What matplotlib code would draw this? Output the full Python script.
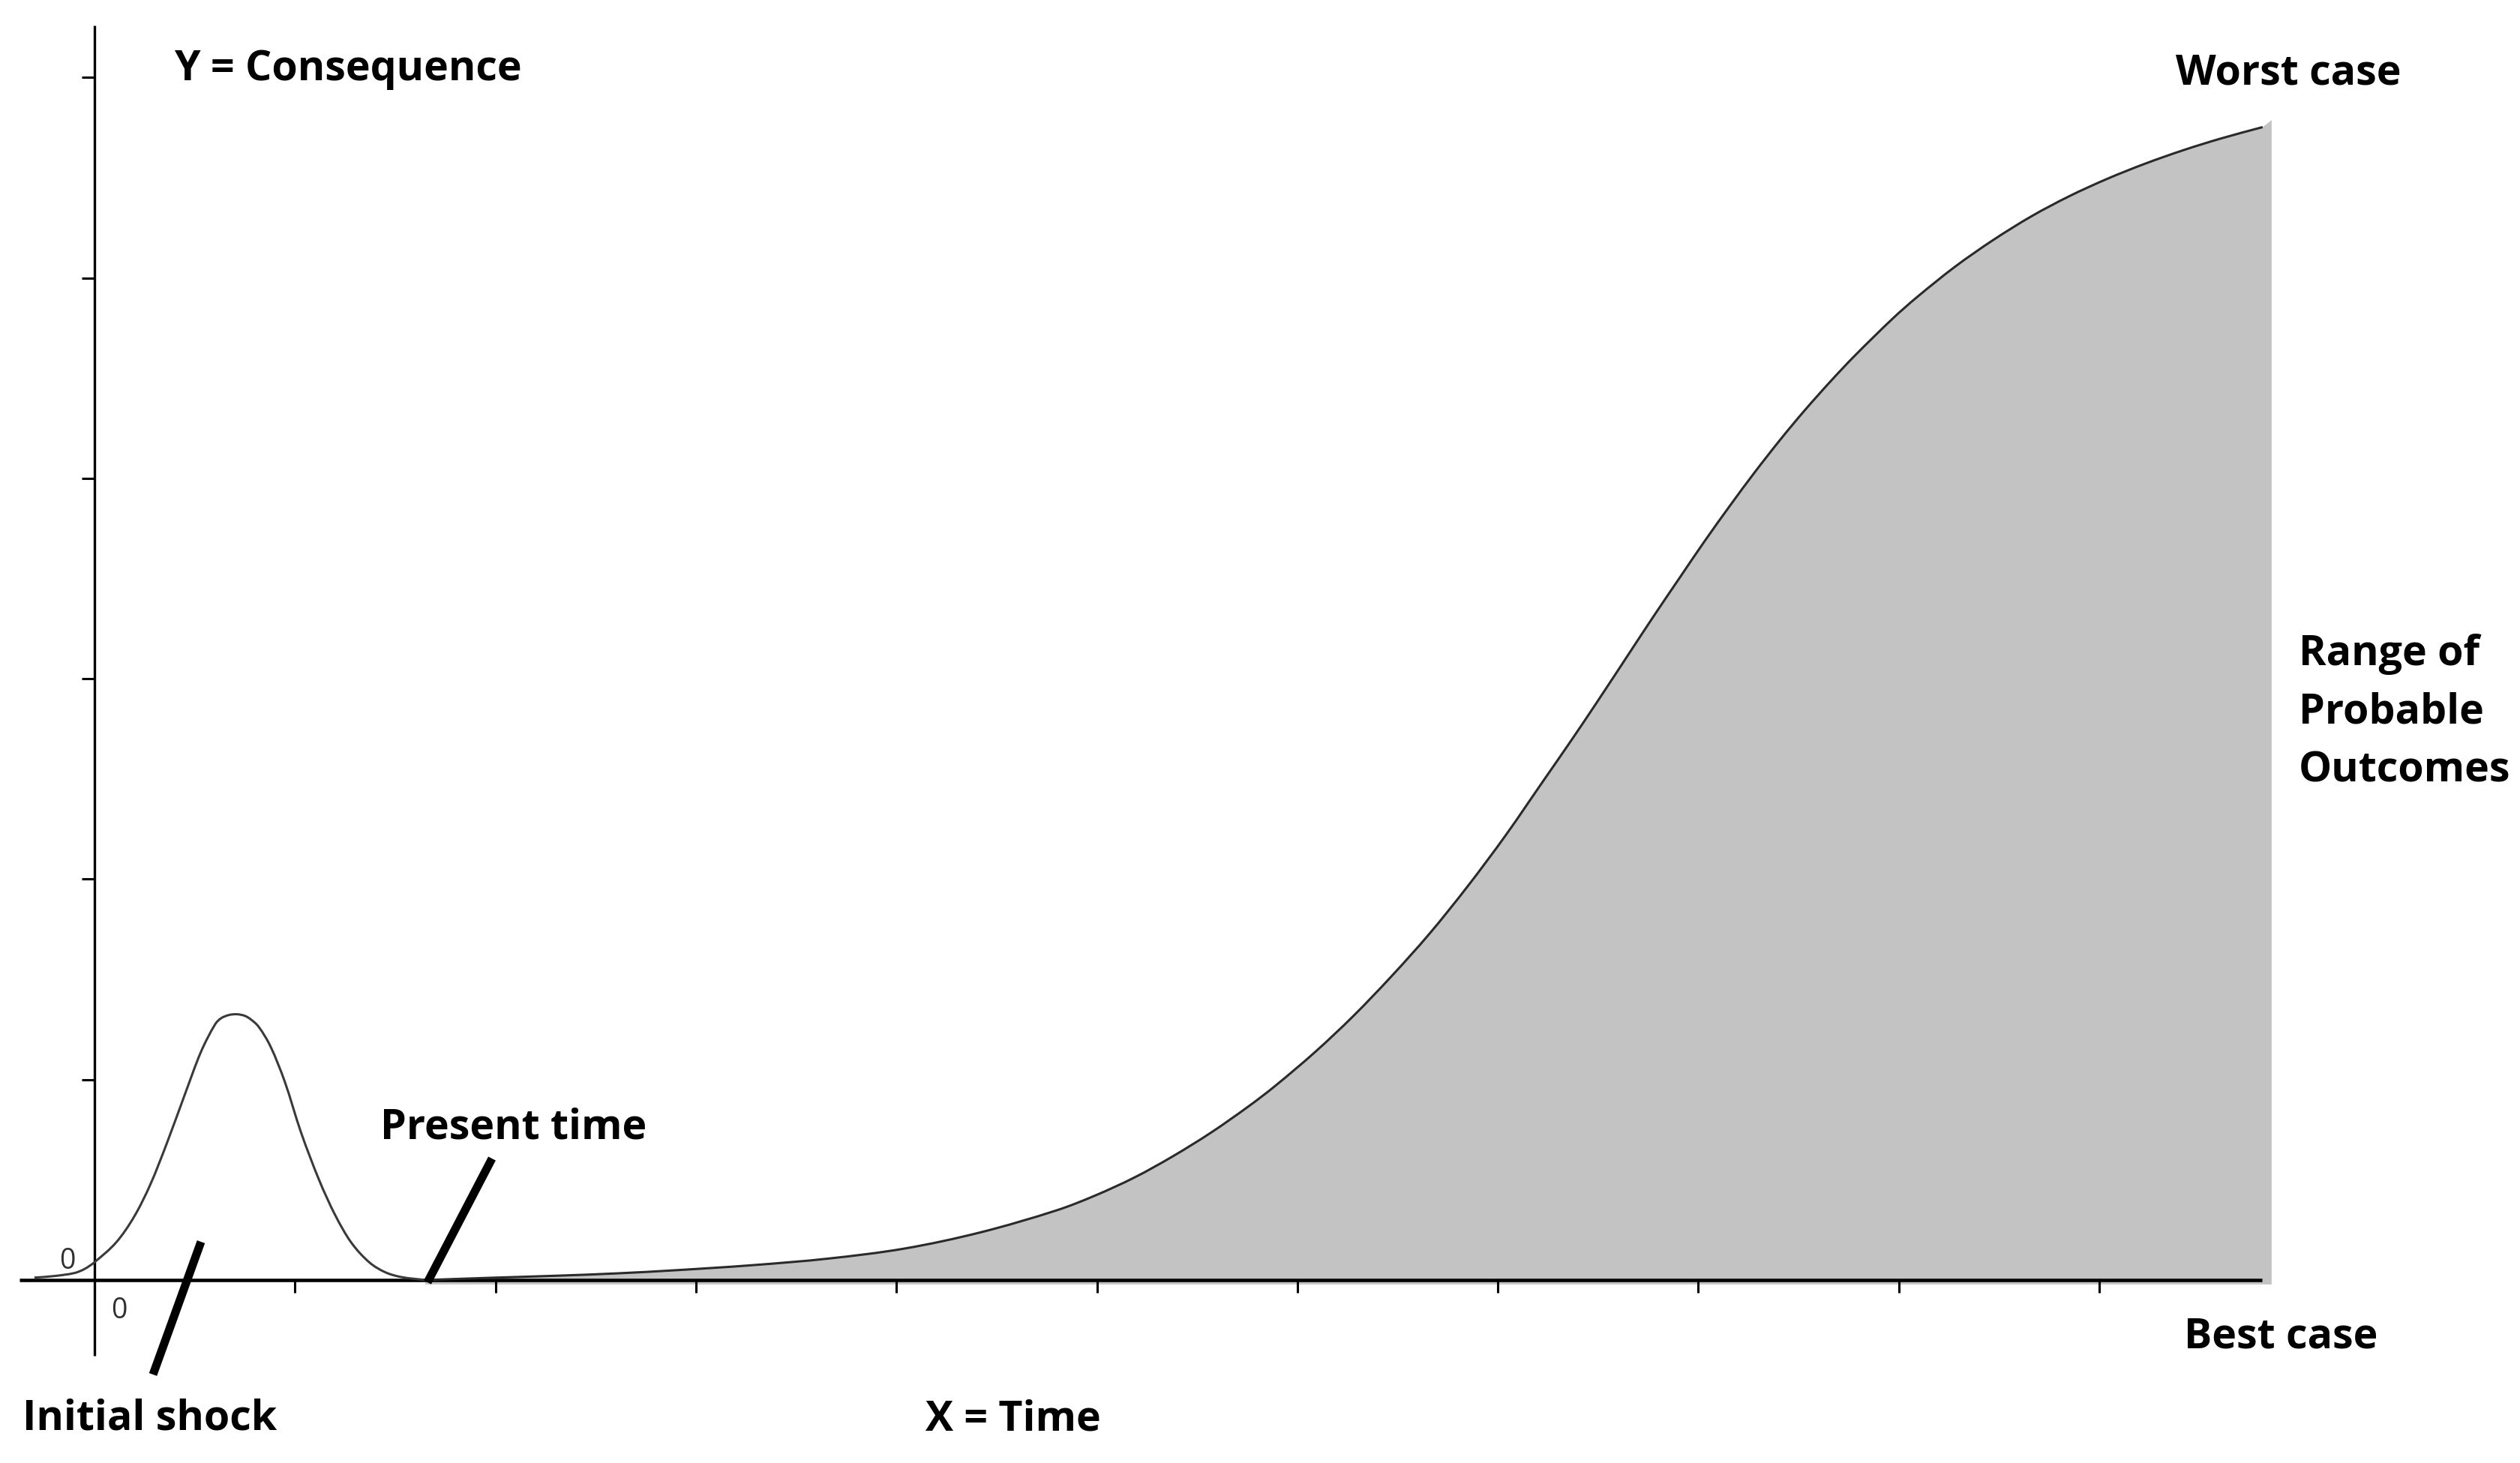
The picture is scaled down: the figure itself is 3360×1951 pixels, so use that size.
import matplotlib
matplotlib.use("Agg")
import matplotlib.pyplot as plt
from matplotlib.path import Path
from matplotlib.patches import PathPatch
import numpy as np

# ---------------- data ----------------
# Initial shock bump
shock_x = [-0.30, -0.20, -0.10, -0.05, 0.00, 0.11, 0.20, 0.28, 0.36, 0.45, 0.53,
           0.60, 0.63, 0.67, 0.71, 0.75, 0.78, 0.82, 0.88, 0.95, 1.03, 1.12,
           1.20, 1.28, 1.37, 1.45, 1.53, 1.65]
shock_y = [0.012, 0.020, 0.035, 0.055, 0.089, 0.190, 0.320, 0.480, 0.680, 0.924, 1.136,
           1.273, 1.305, 1.322, 1.326, 1.318, 1.300, 1.262, 1.161, 0.987, 0.737, 0.500,
           0.325, 0.188, 0.089, 0.039, 0.015, 0.000]

# Range of probable outcomes (S-curve)
risk_x = [1.65, 2.00, 2.32, 2.60, 2.90, 3.28, 3.66, 4.04, 4.42, 4.80, 4.99, 5.19,
          5.38, 5.57, 5.76, 5.89, 6.09, 6.28, 6.47, 6.66, 6.85, 7.04, 7.23, 7.36,
          7.49, 7.66, 7.78, 7.91, 8.03, 8.16, 8.28, 8.41, 8.53, 8.66, 8.78, 8.97,
          9.09, 9.28, 9.47, 9.66, 9.85, 10.04, 10.23, 10.42, 10.61, 10.815]
risk_y = [0.000, 0.012, 0.022, 0.033, 0.049, 0.074, 0.107, 0.157, 0.238, 0.348, 0.421, 0.513,
          0.618, 0.736, 0.869, 0.969, 1.139, 1.318, 1.516, 1.729, 1.965, 2.220, 2.495, 2.683,
          2.876, 3.134, 3.316, 3.508, 3.684, 3.866, 4.028, 4.194, 4.338, 4.484, 4.611, 4.797,
          4.903, 5.055, 5.188, 5.306, 5.407, 5.494, 5.570, 5.637, 5.696, 5.752]
fill_end_x = 10.86
fill_end_y = 5.787

x_ticks = [1, 2, 3, 4, 5, 6, 7, 8, 9, 10]
y_ticks = [1, 2, 3, 4, 5, 6]
zero_label = "0"

label_y = "Y = Consequence"
label_x = "X = Time"
label_worst = "Worst case"
label_best = "Best case"
label_range = ["Range of", "Probable", "Outcomes"]
label_present = "Present time"
label_shock = "Initial shock"

# ---------------- layout ----------------
W, H = 3360, 1951
X0, Y0, U = 126.0, 1707.0, 267.3   # pixel position of origin, pixels per unit


def d(px, py):
    return ((px - X0) / U, (Y0 - py) / U)


def smooth_path(xs, ys):
    """Cubic Hermite (Bezier) path passing through every data point."""
    x = np.asarray(xs, float)
    y = np.asarray(ys, float)
    n = len(x)
    m = np.empty(n)
    m[0] = (y[1] - y[0]) / (x[1] - x[0])
    m[-1] = (y[-1] - y[-2]) / (x[-1] - x[-2])
    for i in range(1, n - 1):
        m[i] = (y[i + 1] - y[i - 1]) / (x[i + 1] - x[i - 1])
    verts = [(x[0], y[0])]
    codes = [Path.MOVETO]
    for i in range(n - 1):
        h = x[i + 1] - x[i]
        verts += [(x[i] + h / 3, y[i] + m[i] * h / 3),
                  (x[i + 1] - h / 3, y[i + 1] - m[i + 1] * h / 3),
                  (x[i + 1], y[i + 1])]
        codes += [Path.CURVE4] * 3
    return verts, codes


fig = plt.figure(figsize=(W / 100, H / 100), dpi=100)
fig.patch.set_facecolor("white")
ax = fig.add_axes([0, 0, 1, 1])
ax.set_facecolor("white")
ax.set_xlim(-X0 / U, (W - X0) / U)
ax.set_ylim(-(H - Y0) / U, Y0 / U)

# axes as crossing spines
for s in ("top", "right"):
    ax.spines[s].set_visible(False)
ax.spines["left"].set_position(("data", 0))
ax.spines["bottom"].set_position(("data", 0))
ax.spines["left"].set_bounds(d(0, 1808)[1], d(0, 34)[1])
ax.spines["bottom"].set_bounds(d(26, 0)[0], d(3016, 0)[0])
ax.spines["left"].set_linewidth(2.4)
ax.spines["bottom"].set_linewidth(3.3)
for s in ("left", "bottom"):
    ax.spines[s].set_color("black")
    ax.spines[s].set_capstyle("butt")
    ax.spines[s].set_zorder(3)
ax.set_xticks(x_ticks)
ax.set_yticks(y_ticks)
ax.tick_params(axis="both", direction="out", length=12.5, width=2.2, color="black",
               labelbottom=False, labelleft=False)

# filled range under the S-curve
rv, rc = smooth_path(risk_x, risk_y)
base = -0.022
fill_verts = rv + [(fill_end_x, fill_end_y), (fill_end_x, base), (risk_x[0], base), (risk_x[0], risk_y[0])]
fill_codes = rc + [Path.LINETO, Path.LINETO, Path.LINETO, Path.CLOSEPOLY]
ax.add_patch(PathPatch(Path(fill_verts, fill_codes), facecolor="#c3c3c3",
                       edgecolor="none", zorder=1))

# curves
ax.add_patch(PathPatch(Path(rv, rc), facecolor="none", edgecolor="#2a2a2a",
                       linewidth=2.2, zorder=4, clip_on=False))
sv, sc = smooth_path(shock_x, shock_y)
ax.add_patch(PathPatch(Path(sv, sc), facecolor="none", edgecolor="#3a3a3a",
                       linewidth=2.2, zorder=4, clip_on=False))

# pointer strokes
p1, p2 = d(268, 1656), d(204, 1833)
ax.plot([p1[0], p2[0]], [p1[1], p2[1]], color="black", linewidth=8.0,
        solid_capstyle="butt", zorder=5, clip_on=False)
p1, p2 = d(570, 1710), d(656, 1545)
ax.plot([p1[0], p2[0]], [p1[1], p2[1]], color="black", linewidth=8.0,
        solid_capstyle="butt", zorder=5, clip_on=False)

# texts
bold = dict(fontsize=40, fontweight="bold", family=["Open Sans", "DejaVu Sans"],
            color="black", ha="left", va="baseline", zorder=6)
ax.text(*d(232, 107), label_y, **bold)
ax.text(*d(2901, 112), label_worst, **bold)
ax.text(*d(2912, 1797), label_best, **bold)
for i, ln in enumerate(label_range):
    ax.text(*d(3065, 887 + 77.5 * i), ln, **bold)
ax.text(*d(507, 1518), label_present, **bold)
ax.text(*d(30, 1906), label_shock, **bold)
ax.text(*d(1234, 1907), label_x, **bold)

small = dict(fontsize=27, family=["Open Sans", "DejaVu Sans"], color="#303030",
             ha="center", va="center", zorder=6)
ax.text(*d(90, 1682), zero_label, **small)
ax.text(*d(159, 1748), zero_label, **small)

fig.savefig("out.png", dpi=100, facecolor="white")
